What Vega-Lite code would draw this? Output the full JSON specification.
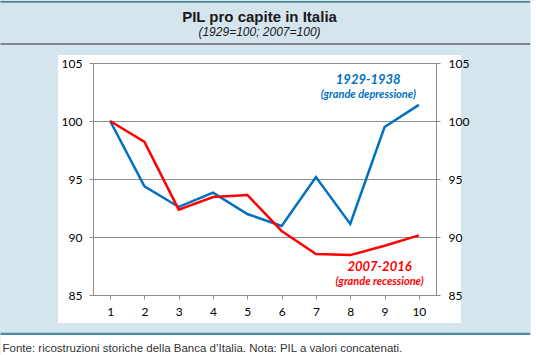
{
  "$schema": "https://vega.github.io/schema/vega-lite/v6.json",
  "width": 403,
  "height": 268,
  "autosize": {"type": "none"},
  "padding": {"left": 58, "top": 55, "right": 75, "bottom": 32},
  "background": "#d4e5ee",
  "view": {"fill": "white", "stroke": null},
  "title": {
    "text": "PIL pro capite in Italia",
    "subtitle": "(1929=100; 2007=100)",
    "anchor": "middle",
    "offset": 0,
    "dy": 36.5,
    "font": "Liberation Sans",
    "fontSize": 15,
    "fontWeight": "bold",
    "color": "#1a1a1a",
    "subtitleFont": "Liberation Sans",
    "subtitleFontSize": 12,
    "subtitleFontStyle": "italic",
    "subtitleColor": "#1a1a1a",
    "subtitlePadding": 2
  },
  "datasets": {
    "series": [
      {"t": 1, "v": 100, "s": "1929-1938"},
      {"t": 2, "v": 94.37, "s": "1929-1938"},
      {"t": 3, "v": 92.59, "s": "1929-1938"},
      {"t": 4, "v": 93.82, "s": "1929-1938"},
      {"t": 5, "v": 91.98, "s": "1929-1938"},
      {"t": 6, "v": 90.95, "s": "1929-1938"},
      {"t": 7, "v": 95.17, "s": "1929-1938"},
      {"t": 8, "v": 91.13, "s": "1929-1938"},
      {"t": 9, "v": 99.48, "s": "1929-1938"},
      {"t": 10, "v": 101.39, "s": "1929-1938"},
      {"t": 1, "v": 100, "s": "2007-2016"},
      {"t": 2, "v": 98.19, "s": "2007-2016"},
      {"t": 3, "v": 92.36, "s": "2007-2016"},
      {"t": 4, "v": 93.45, "s": "2007-2016"},
      {"t": 5, "v": 93.62, "s": "2007-2016"},
      {"t": 6, "v": 90.52, "s": "2007-2016"},
      {"t": 7, "v": 88.53, "s": "2007-2016"},
      {"t": 8, "v": 88.44, "s": "2007-2016"},
      {"t": 9, "v": 89.25, "s": "2007-2016"},
      {"t": 10, "v": 90.14, "s": "2007-2016"}
    ],
    "notes": [
      {"t": 8, "v": 103.53, "s": "1929-1938", "kind": "periodo", "label": "1929-1938"},
      {"t": 8, "v": 102.24, "s": "1929-1938", "kind": "nota", "label": "(grande depressione)"},
      {"t": 9, "v": 87.41, "s": "2007-2016", "kind": "periodo", "label": "2007-2016"},
      {"t": 9, "v": 86.12, "s": "2007-2016", "kind": "nota", "label": "(grande recessione)"}
    ]
  },
  "layer": [
    {
      "data": {"name": "series"},
      "mark": {"type": "point", "opacity": 0},
      "encoding": {
        "x": {
          "field": "t", "type": "ordinal",
          "scale": {"type": "point", "domain": [1, 2, 3, 4, 5, 6, 7, 8, 9, 10], "range": [-58, 478], "padding": 0},
          "axis": {"orient": "bottom", "offset": 21.6, "domainColor": "#ffffff", "domainWidth": 21.5, "ticks": false, "labels": false, "grid": false, "title": null}
        }
      }
    },
    {
      "data": {"name": "series"},
      "mark": {"type": "point", "opacity": 0},
      "encoding": {
        "x": {
          "field": "t", "type": "ordinal",
          "scale": {"type": "point", "domain": [1, 2, 3, 4, 5, 6, 7, 8, 9, 10], "range": [-58, 472], "padding": 0},
          "axis": {"orient": "bottom", "offset": 10.3, "domainColor": "#4b8aa6", "domainWidth": 2.2, "ticks": false, "labels": false, "grid": false, "title": null}
        }
      }
    },
    {
      "data": {"name": "series"},
      "mark": {"type": "point", "opacity": 0},
      "encoding": {
        "x": {
          "field": "t", "type": "ordinal",
          "scale": {"type": "point", "domain": [1, 2, 3, 4, 5, 6, 7, 8, 9, 10], "range": [-58, 472], "padding": 0},
          "axis": {"orient": "top", "offset": 11.5, "domainColor": "#80868a", "domainWidth": 2, "ticks": false, "labels": false, "grid": false, "title": null}
        }
      }
    },
    {
      "data": {"name": "series"},
      "mark": {"type": "point", "opacity": 0},
      "encoding": {
        "x": {
          "field": "t", "type": "ordinal",
          "scale": {"type": "point", "domain": [1, 2, 3, 4, 5, 6, 7, 8, 9, 10], "range": [-58, 472], "padding": 0},
          "axis": {"orient": "top", "offset": 53.6, "domainColor": "#1f5a78", "domainWidth": 1.4, "ticks": false, "labels": false, "grid": false, "title": null}
        }
      }
    },
    {
      "data": {"name": "series"},
      "mark": {"type": "point", "opacity": 0},
      "encoding": {
        "x": {"field": "t", "type": "ordinal", "scale": {"type": "point", "domain": [1, 2, 3, 4, 5, 6, 7, 8, 9, 10], "range": [35, 378], "padding": 0.5}, "axis": null},
        "y": {
          "field": "v", "type": "quantitative",
          "scale": {"domain": [85, 105], "range": [300, -55], "zero": false, "nice": false, "clamp": true},
          "axis": {"orient": "right", "offset": 72, "domainColor": "#ffffff", "domainWidth": 6, "ticks": false, "labels": false, "grid": false, "title": null}
        }
      }
    },
    {
      "data": {"name": "series"},
      "mark": {"type": "line", "strokeWidth": 2.5},
      "encoding": {
        "x": {
          "field": "t", "type": "ordinal",
          "scale": {"type": "point", "domain": [1, 2, 3, 4, 5, 6, 7, 8, 9, 10], "range": [35, 378], "padding": 0.5},
          "axis": {
            "orient": "bottom", "offset": -28, "labelAngle": 0,
            "domainColor": "#8c8c8c", "tickColor": "#8c8c8c", "tickSize": 4,
            "labelFont": "Lato", "labelFontSize": 12, "labelColor": "#000000", "labelPadding": 7,
            "grid": false,
            "title": "Fonte: ricostruzioni storiche della Banca d’Italia. Nota: PIL a valori concatenati.",
            "titleFont": "Liberation Sans", "titleFontSize": 11.5, "titleFontWeight": "normal",
            "titleColor": "#333333", "titleAnchor": "start", "titleAlign": "left",
            "titleBaseline": "alphabetic", "titleX": -56, "titleY": 56
          }
        },
        "y": {
          "field": "v", "type": "quantitative",
          "scale": {"domain": [85, 105], "range": [240, 8], "zero": false, "nice": false},
          "axis": {
            "orient": "left", "offset": -35, "values": [85, 90, 95, 100, 105],
            "grid": true, "gridColor": "#8c8c8c", "domainColor": "#8c8c8c", "tickColor": "#8c8c8c",
            "tickSize": 4, "labelFont": "Lato", "labelFontSize": 12, "labelColor": "#000000",
            "labelPadding": 7, "title": null
          }
        },
        "color": {
          "field": "s", "type": "nominal",
          "scale": {"domain": ["1929-1938", "2007-2016"], "range": ["#0070c0", "#ff0000"]},
          "legend": null
        }
      }
    },
    {
      "data": {"name": "series"},
      "mark": {"type": "line", "opacity": 0},
      "encoding": {
        "x": {"field": "t", "type": "ordinal", "scale": {"type": "point", "domain": [1, 2, 3, 4, 5, 6, 7, 8, 9, 10], "range": [35, 378], "padding": 0.5}, "axis": null},
        "y": {
          "field": "v", "type": "quantitative",
          "scale": {"domain": [85, 105], "range": [240, 8], "zero": false, "nice": false},
          "axis": {
            "orient": "right", "offset": -25, "values": [85, 90, 95, 100, 105],
            "grid": false, "domainColor": "#8c8c8c", "tickColor": "#8c8c8c",
            "tickSize": 4, "labelFont": "Lato", "labelFontSize": 12, "labelColor": "#000000",
            "labelPadding": 8, "title": null
          }
        }
      }
    },
    {
      "data": {"name": "notes"},
      "transform": [{"filter": "datum.s == '1929-1938'"}],
      "mark": {"type": "text", "font": "Lato", "fontStyle": "italic", "fontWeight": "bold", "dx": 18, "align": "center", "baseline": "middle"},
      "encoding": {
        "x": {"field": "t", "type": "ordinal", "scale": {"type": "point", "domain": [1, 2, 3, 4, 5, 6, 7, 8, 9, 10], "range": [35, 378], "padding": 0.5}, "axis": null},
        "y": {"field": "v", "type": "quantitative", "scale": {"domain": [85, 105], "range": [240, 8], "zero": false, "nice": false}, "axis": null},
        "text": {"field": "label"},
        "color": {"field": "s", "type": "nominal", "scale": {"domain": ["1929-1938", "2007-2016"], "range": ["#0070c0", "#ff0000"]}, "legend": null},
        "size": {"field": "kind", "type": "nominal", "scale": {"domain": ["periodo", "nota"], "range": [13, 11]}, "legend": null}
      }
    },
    {
      "data": {"name": "notes"},
      "transform": [{"filter": "datum.s == '2007-2016'"}],
      "mark": {"type": "text", "font": "Lato", "fontStyle": "italic", "fontWeight": "bold", "dx": -5, "align": "center", "baseline": "middle"},
      "encoding": {
        "x": {"field": "t", "type": "ordinal", "scale": {"type": "point", "domain": [1, 2, 3, 4, 5, 6, 7, 8, 9, 10], "range": [35, 378], "padding": 0.5}, "axis": null},
        "y": {"field": "v", "type": "quantitative", "scale": {"domain": [85, 105], "range": [240, 8], "zero": false, "nice": false}, "axis": null},
        "text": {"field": "label"},
        "color": {"field": "s", "type": "nominal", "scale": {"domain": ["1929-1938", "2007-2016"], "range": ["#0070c0", "#ff0000"]}, "legend": null},
        "size": {"field": "kind", "type": "nominal", "scale": {"domain": ["periodo", "nota"], "range": [13, 11]}, "legend": null}
      }
    }
  ],
  "resolve": {
    "scale": {"x": "independent", "y": "independent"},
    "axis": {"x": "independent", "y": "independent"}
  }
}
